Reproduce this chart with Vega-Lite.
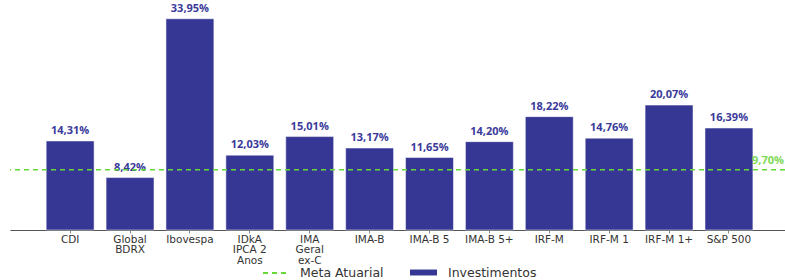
{
  "$schema": "https://vega.github.io/schema/vega-lite/v6.json",
  "autosize": "none",
  "width": 775,
  "height": 224,
  "padding": {"left": 10, "top": 6, "right": 0, "bottom": 50},
  "config": {"view": {"stroke": null}, "font": "Open Sans"},
  "datasets": {
    "investimentos": [
      {"indice": "CDI", "rent": 14.31, "serie": "Investimentos"},
      {"indice": "Global BDRX", "rent": 8.42, "serie": "Investimentos"},
      {"indice": "Ibovespa", "rent": 33.95, "serie": "Investimentos"},
      {"indice": "IDkA IPCA 2 Anos", "rent": 12.03, "serie": "Investimentos"},
      {"indice": "IMA Geral ex-C", "rent": 15.01, "serie": "Investimentos"},
      {"indice": "IMA-B", "rent": 13.17, "serie": "Investimentos"},
      {"indice": "IMA-B 5", "rent": 11.65, "serie": "Investimentos"},
      {"indice": "IMA-B 5+", "rent": 14.20, "serie": "Investimentos"},
      {"indice": "IRF-M", "rent": 18.22, "serie": "Investimentos"},
      {"indice": "IRF-M 1", "rent": 14.76, "serie": "Investimentos"},
      {"indice": "IRF-M 1+", "rent": 20.07, "serie": "Investimentos"},
      {"indice": "S&P 500", "rent": 16.39, "serie": "Investimentos"}
    ],
    "meta": [
      {"indice": "S&P 500", "rent": 9.70, "serie": "Meta Atuarial"}
    ]
  },
  "encoding": {
    "x": {
      "field": "indice", "type": "nominal", "sort": null,
      "scale": {"paddingInner": 0.2, "paddingOuter": 0.57, "align": 0.53},
      "axis": {
        "title": null, "labelAngle": 0, "labelFont": "DejaVu Sans", "labelFontSize": 10.5, "labelColor": "#333333",
        "labelPadding": 1, "labelLineHeight": 10.5, "domainColor": "#555555", "tickColor": "#888888", "tickSize": 3,
        "labelExpr": "datum.label == 'Global BDRX' ? ['Global','BDRX'] : datum.label == 'IDkA IPCA 2 Anos' ? ['IDkA','IPCA 2','Anos'] : datum.label == 'IMA Geral ex-C' ? ['IMA','Geral','ex-C'] : datum.label"
      }
    },
    "y": {
      "field": "rent", "type": "quantitative",
      "scale": {"domain": [0, 36]},
      "axis": null
    }
  },
  "layer": [
    {
      "data": {"name": "investimentos"},
      "mark": {"type": "bar", "stroke": "#ffffff", "strokeWidth": 0.5},
      "encoding": {
        "color": {
          "field": "serie", "type": "nominal",
          "scale": {"domain": ["Investimentos"], "range": ["#363795"]},
          "legend": {
            "title": null, "orient": "none", "legendX": 400, "legendY": 253, "direction": "horizontal",
            "symbolType": "M-1,-0.22H1V0.22H-1Z", "symbolSize": 729, "symbolStrokeWidth": 0,
            "labelOffset": 11, "labelFont": "DejaVu Sans", "labelFontSize": 12.5, "labelColor": "#333333"
          }
        }
      }
    },
    {
      "data": {"name": "investimentos"},
      "transform": [{"calculate": "replace(format(datum.rent, '.2f'), '.', ',') + '%'", "as": "rotulo"}],
      "mark": {"type": "text", "dy": -5, "baseline": "bottom", "fontWeight": "bold", "fontSize": 11, "color": "#3a3a9a"},
      "encoding": {"text": {"field": "rotulo"}}
    },
    {
      "data": {"name": "meta"},
      "mark": {"type": "rule", "strokeWidth": 1.5, "color": "#66d936"},
      "encoding": {
        "x": null,
        "strokeDash": {
          "field": "serie", "type": "nominal",
          "scale": {"domain": ["Meta Atuarial"], "range": [[5, 4]]},
          "legend": {
            "title": null, "orient": "none", "legendX": 252, "legendY": 253, "direction": "horizontal",
            "symbolType": "stroke", "symbolSize": 676, "symbolStrokeColor": "#66d936", "symbolStrokeWidth": 2,
            "labelOffset": 10, "labelFont": "DejaVu Sans", "labelFontSize": 12.5, "labelColor": "#333333"
          }
        }
      }
    },
    {
      "data": {"name": "meta"},
      "transform": [{"calculate": "replace(format(datum.rent, '.2f'), '.', ',') + '%'", "as": "rotulo"}],
      "mark": {"type": "text", "align": "left", "baseline": "middle", "dx": 23, "dy": -9, "fontWeight": "bold", "fontSize": 11, "color": "#7ed957"},
      "encoding": {"text": {"field": "rotulo"}}
    }
  ]
}
